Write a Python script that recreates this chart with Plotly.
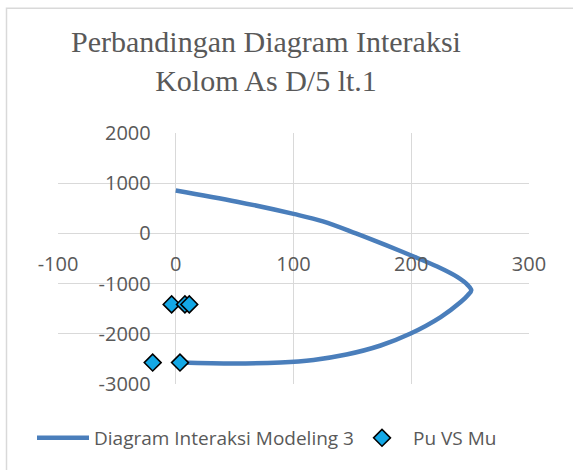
import plotly.graph_objects as go

# Interaction diagram (Mu vs Pu)
diag_mu = [0, 52, 100, 125, 153, 178, 200, 222, 239, 248, 251, 248, 242, 225, 199, 174, 145, 117, 89, 50, 4]
diag_pu = [855, 632, 388, 240, 0, -230, -440, -660, -867, -1030, -1134, -1230, -1367, -1667, -2000, -2233, -2413, -2520, -2572, -2592, -2572]

# Pu VS Mu points
pts_mu = [-3.5, 7.8, 11.5, -19.6, 3.6]
pts_pu = [-1414, -1414, -1414, -2574, -2574]

x_ticks = [-100, 0, 100, 200, 300]
x_labels = ["-100", "0", "100", "200", "300"]
y_ticks = [-3000, -2000, -1000, 0, 1000, 2000]
y_labels = ["-3000", "-2000", "-1000", "0", "1000", "2000"]

title_text = "Perbandingan Diagram Interaksi<br>Kolom As D/5 lt.1"
name_line = "Diagram Interaksi Modeling 3"
name_pts = "Pu VS Mu"

W, H = 573, 470
L, R, T, B = 58, 44, 133, 86
pw = W - L - R
ph = H - T - B

fig = go.Figure()
fig.add_trace(go.Scatter(x=diag_mu, y=diag_pu, mode="lines", name=name_line, legend="legend",
                         line=dict(color="#4a7ebb", width=4.5, shape="spline", smoothing=1.0)))
fig.add_trace(go.Scatter(x=pts_mu, y=pts_pu, mode="markers", name=name_pts, legend="legend2",
                         marker=dict(symbol="diamond", size=13, color="#13a8e6",
                                     line=dict(color="#000000", width=1.5))))

xr = [x_ticks[0], x_ticks[-1]]
yr = [y_ticks[0], y_ticks[-1]]
font_axis = dict(family="Open Sans", size=20, color="#595959")
font_leg = dict(family="Open Sans", size=19, color="#595959")
leg_y = (H - B - 438) / ph

fig.update_layout(
    width=W, height=H,
    margin=dict(l=L, r=R, t=T, b=B, autoexpand=False),
    paper_bgcolor="white", plot_bgcolor="white",
    showlegend=True,
    legend=dict(orientation="h", x=(32 - L) / pw, xanchor="left", y=leg_y, yanchor="middle",
                font=font_leg, itemwidth=52, bgcolor="rgba(0,0,0,0)"),
    legend2=dict(orientation="h", x=(351 - L) / pw, xanchor="left", y=leg_y, yanchor="middle",
                 font=font_leg, itemwidth=52, bgcolor="rgba(0,0,0,0)"),
    xaxis=dict(range=xr, tickvals=x_ticks, ticktext=x_labels, showgrid=True, gridcolor="#d9d9d9",
               gridwidth=1.3, zeroline=False, showline=False, anchor="free", automargin=False,
               position=(0 - yr[0]) / (yr[1] - yr[0]), tickfont=font_axis, ticks="",
               ticklabelstandoff=17, fixedrange=True),
    yaxis=dict(range=yr, tickvals=y_ticks, ticktext=y_labels, showgrid=True, gridcolor="#d9d9d9",
               gridwidth=1.3, zeroline=False, showline=False, anchor="free", automargin=False,
               position=(0 - xr[0]) / (xr[1] - xr[0]), tickfont=font_axis, ticks="",
               ticklabelstandoff=25, fixedrange=True),
    title=dict(text=title_text, x=(266 - L) / pw, xref="paper", xanchor="center",
               y=1 - 52 / H, yref="container", yanchor="top",
               font=dict(family="Liberation Serif", size=30, color="#595959")),
)

# chart area border (cropped at right and bottom)
fig.add_shape(type="rect", xref="paper", yref="paper",
              x0=(6.5 - L) / pw, x1=(W + 20 - L) / pw,
              y0=(H - B - (H + 20)) / ph, y1=(H - B - 8.25) / ph,
              line=dict(color="#d9d9d9", width=1.5), fillcolor="rgba(0,0,0,0)", layer="below")

fig.write_html("out.html", config={"displayModeBar": False},
               post_script="document.body.style.margin='0px';")
